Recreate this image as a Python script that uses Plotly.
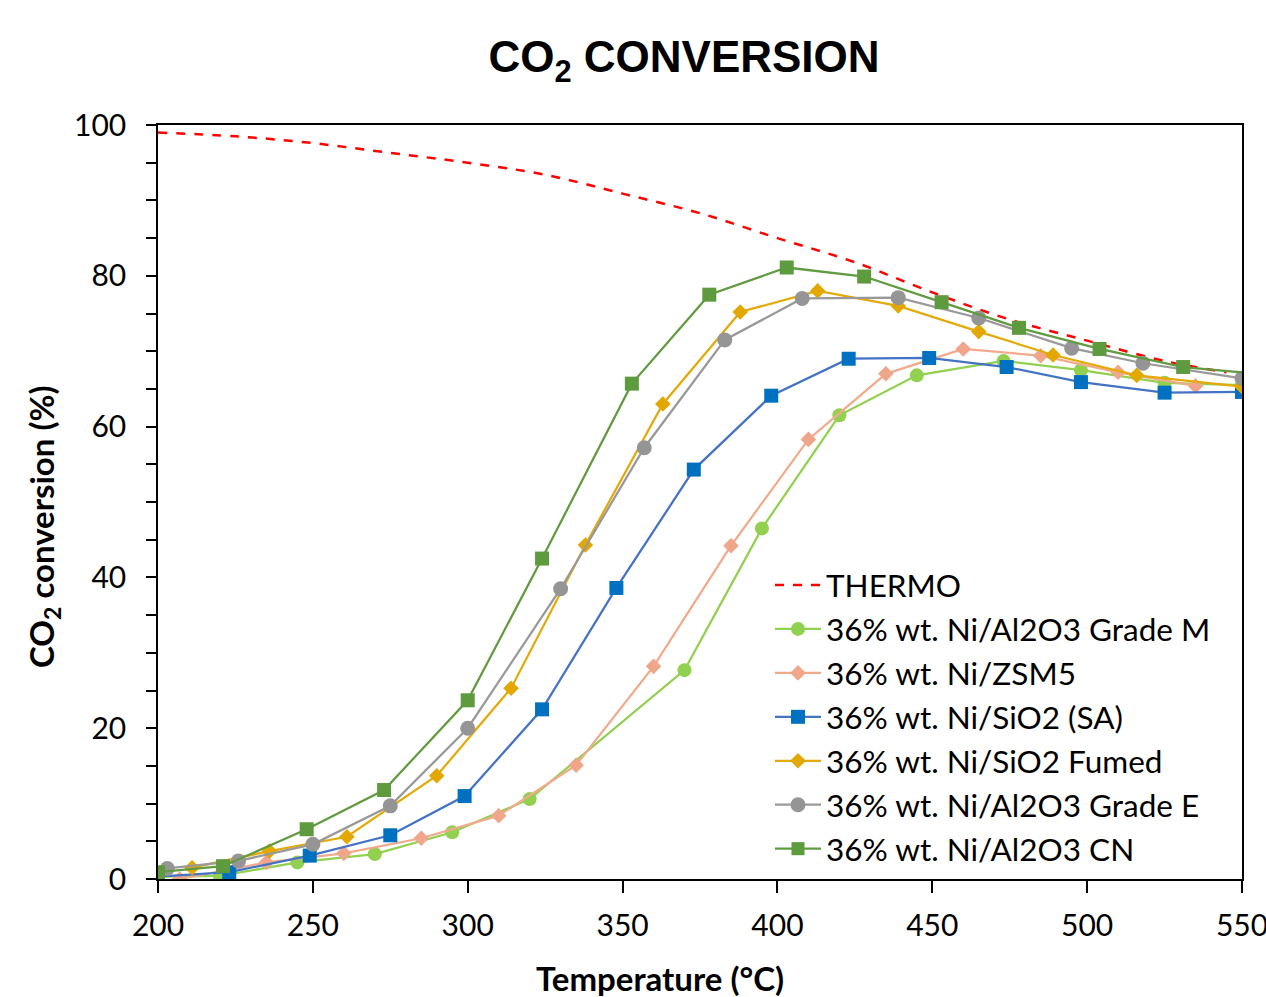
import plotly.graph_objects as go

# ---------------- data ----------------
thermo_T = [200, 225, 250, 275, 300, 325, 350, 375, 400, 425, 450, 475, 500, 525, 545]
thermo_v = [99.0, 98.5, 97.6, 96.3, 95.0, 93.4, 90.9, 88.3, 85.0, 81.8, 77.8, 74.2, 71.4, 68.7, 67.2]

gradeM_T = [200, 220, 245, 270, 295, 320, 370, 395, 420, 445, 473, 498, 525, 550]
gradeM_v = [0.3, 0.4, 2.2, 3.3, 6.2, 10.6, 27.7, 46.5, 61.5, 66.8, 68.7, 67.5, 65.8, 65.5]

zsm5_T = [207, 235, 260, 285, 310, 335, 360, 385, 410, 435, 460, 485, 510, 535]
zsm5_v = [0.0, 2.2, 3.4, 5.4, 8.4, 15.1, 28.2, 44.2, 58.3, 67.0, 70.3, 69.4, 67.2, 65.4]

sa_T = [200, 223, 249, 275, 299, 324, 348, 373, 398, 423, 449, 474, 498, 525, 550]
sa_v = [0.3, 0.9, 3.1, 5.8, 11.0, 22.5, 38.6, 54.3, 64.1, 69.0, 69.1, 67.9, 65.9, 64.5, 64.6]

fumed_T = [211, 236, 261, 290, 314, 338, 363, 388, 413, 439, 465, 489, 516, 550]
fumed_v = [1.5, 3.7, 5.6, 13.7, 25.3, 44.3, 63.0, 75.2, 78.0, 76.0, 72.6, 69.5, 66.8, 65.3]

gradeE_T = [203, 226, 250, 275, 300, 330, 357, 383, 408, 439, 465, 495, 518, 550]
gradeE_v = [1.4, 2.4, 4.6, 9.7, 20.0, 38.5, 57.2, 71.5, 77.0, 77.1, 74.4, 70.4, 68.4, 66.4]

cn_T = [200, 221, 248, 273, 300, 324, 353, 378, 403, 428, 453, 478, 504, 531, 550]
cn_v = [0.9, 1.7, 6.6, 11.8, 23.7, 42.5, 65.7, 77.5, 81.1, 79.9, 76.5, 73.1, 70.3, 67.9, 67.2]

x_ticks = [200, 250, 300, 350, 400, 450, 500, 550]
y_ticks = [0, 20, 40, 60, 80, 100]

# ---------------- figure ----------------
FONT = "Lato"
fig = go.Figure()

fig.add_trace(go.Scatter(x=thermo_T, y=thermo_v, mode="lines", name="THERMO",
                         line=dict(color="#FF0000", width=2.5, dash="dash", shape="spline")))

def add_series(T, v, name, line_color, marker_color, symbol, size, sizes=None):
    fig.add_trace(go.Scatter(
        x=T, y=v, mode="lines+markers", name=name,
        line=dict(color=line_color, width=2.25),
        marker=dict(color=marker_color, symbol=symbol, opacity=1,
                    size=sizes if sizes is not None else size,
                    line=dict(width=0)),
    ))

add_series(gradeM_T, gradeM_v, "36% wt. Ni/Al2O3 Grade M", "#92D050", "#92D050", "circle", 14)
add_series(zsm5_T, zsm5_v, "36% wt. Ni/ZSM5", "#F2AA8C", "#F0A68A", "diamond", 12)
add_series(sa_T, sa_v, "36% wt. Ni/SiO2 (SA)", "#4472C4", "#0070C0", "square", 14)
add_series(fumed_T, fumed_v, "36% wt. Ni/SiO2 Fumed", "#E3AA0A", "#E3A800", "diamond", 12)
add_series(gradeE_T, gradeE_v, "36% wt. Ni/Al2O3 Grade E", "#999999", "#959595", "circle", 15)
cn_sizes = [14] * (len(cn_T) - 1) + [0]
add_series(cn_T, cn_v, "36% wt. Ni/Al2O3 CN", "#619B3F", "#5E9A3E", "square", 14, cn_sizes)

PL, PR, PT, PB = 158, 24, 125, 118
W, H = 1266, 997
pw = W - PL - PR
ph = H - PT - PB

fig.update_layout(
    width=W, height=H,
    margin=dict(l=PL, r=PR, t=PT, b=PB, autoexpand=False),
    paper_bgcolor="white", plot_bgcolor="white",
    font=dict(family=FONT, color="black", size=30),
    title=dict(text="<b>CO<sub>2</sub> CONVERSION</b>",
               font=dict(family="Liberation Sans", size=44, color="black"),
               x=684 / W, xanchor="center", y=1 - 57 / H, yanchor="middle",
               xref="container", yref="container"),
    showlegend=True,
    legend=dict(x=(770 - PL) / pw, y=(879 - 558) / ph, xanchor="left", yanchor="top",
                bgcolor="rgba(0,0,0,0)", font=dict(family=FONT, size=31.5, color="black"),
                itemwidth=46, tracegroupgap=0),
)

fig.update_xaxes(range=[200, 550], tickmode="array", tickvals=x_ticks,
                 ticks="outside", ticklen=12, tickwidth=1.5, tickcolor="black",
                 showline=True, linecolor="black", linewidth=1.5, mirror=True,
                 showgrid=False, zeroline=False, ticklabelstandoff=7,
                 ticklabeloverflow="allow", automargin=False,
                 tickfont=dict(family=FONT, size=30, color="black"))
fig.update_yaxes(range=[0, 100], tickmode="array", tickvals=y_ticks,
                 ticks="outside", ticklen=10, tickwidth=1.5, tickcolor="black",
                 minor=dict(dtick=5, ticks="outside", ticklen=10, tickwidth=1.5, tickcolor="black", showgrid=False),
                 showline=True, linecolor="black", linewidth=1.5, mirror=True,
                 showgrid=False, zeroline=False, ticklabelstandoff=14, automargin=False,
                 tickfont=dict(family=FONT, size=30, color="black"))

fig.add_annotation(text="<b>Temperature (°C)</b>", xref="paper", yref="paper",
                   x=(660 - PL) / pw, y=-(978 - 879) / ph, xanchor="center", yanchor="middle",
                   showarrow=False, font=dict(family=FONT, size=33, color="black"))
fig.add_annotation(text="<b>CO<sub>2</sub> conversion (%)</b>", xref="paper", yref="paper",
                   x=-(PL - 43) / pw, y=(879 - 527) / ph, xanchor="center", yanchor="middle",
                   textangle=-90, showarrow=False, font=dict(family=FONT, size=33, color="black"))

fig.write_html("out.html")
